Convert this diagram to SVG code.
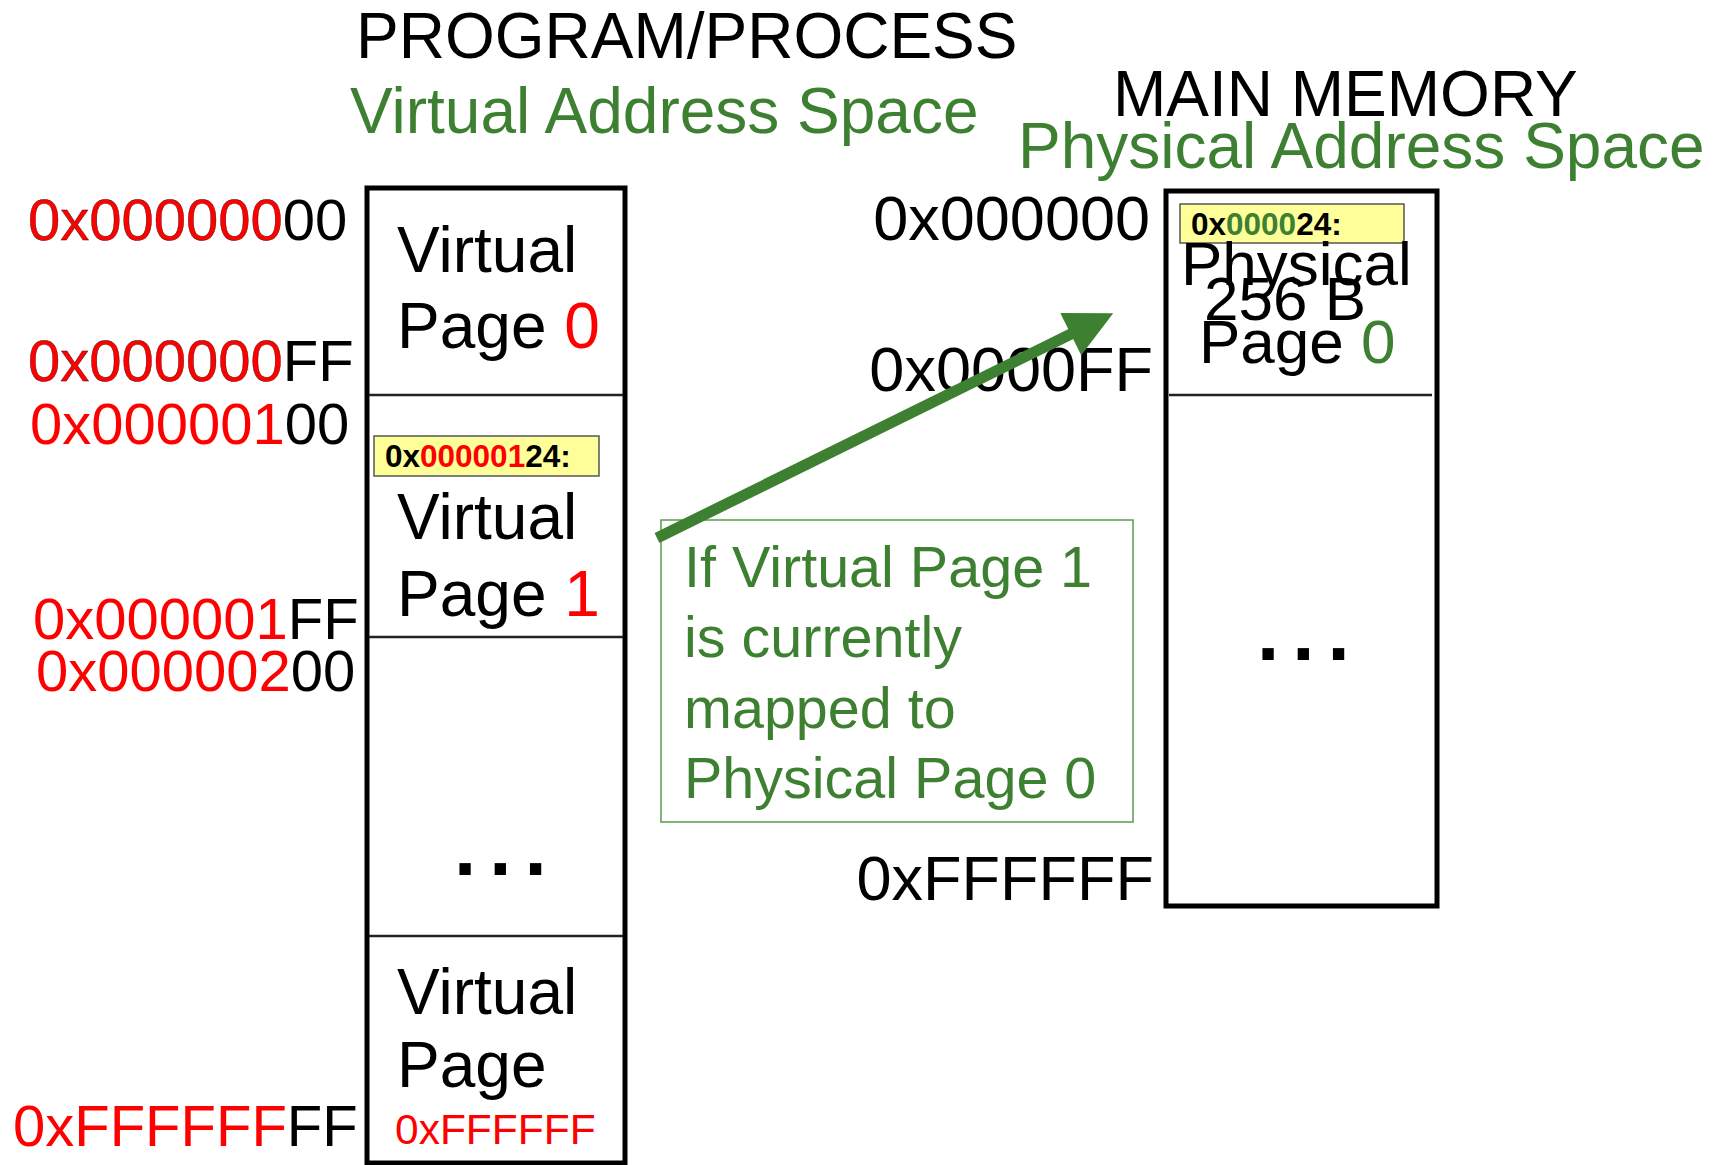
<svg xmlns="http://www.w3.org/2000/svg" width="1728" height="1165" viewBox="0 0 1728 1165">
  <style>
    text { font-family: "Liberation Sans", Arial, sans-serif; fill: #000; }
    .title { font-size: 64px; }
    .green { fill: #3e8032; }
    .red { fill: #ff0000; }
    .addr { font-size: 58px; }
    .paddr { font-size: 63px; }
    .page { font-size: 64px; }
    .ppage { font-size: 62px; }
    .note { font-size: 57.5px; fill: #3e8032; }
    .tag { font-size: 31.5px; font-weight: bold; }
    .dots { font-size: 80px; font-weight: bold; letter-spacing: 13px; }
    .frame { fill: #fff; stroke: #000; stroke-width: 5; }
    .divider { stroke: #222; stroke-width: 2.5; }
    .tagbox { fill: #ffff99; stroke: #555; stroke-width: 1.5; }
    .outlined { stroke: #300; stroke-width: 0.4; }
  </style>
  <defs>
    <marker id="head" viewBox="0 0 10 10" refX="1" refY="5" markerWidth="4.4" markerHeight="4.3" orient="auto" markerUnits="strokeWidth">
      <path d="M0,0 L10,5 L0,10 z" fill="#3e8032"/>
    </marker>
  </defs>

  <rect width="1728" height="1165" fill="#fff"/>

  <!-- headings -->
  <g id="headings">
    <text class="title" x="356" y="58">PROGRAM/PROCESS</text>
    <text class="title green" x="350" y="133">Virtual Address Space</text>
    <text class="title" x="1113" y="116">MAIN MEMORY</text>
    <text class="title green" x="1018" y="168">Physical Address Space</text>
  </g>

  <!-- virtual address labels -->
  <g id="virtual-addresses" class="addr">
    <text x="28" y="240"><tspan class="red outlined">0x000000</tspan>00</text>
    <text x="28" y="381"><tspan class="red outlined">0x000000</tspan>FF</text>
    <text x="30" y="444"><tspan class="red">0x000001</tspan>00</text>
    <text x="33" y="639"><tspan class="red">0x000001</tspan>FF</text>
    <text x="36" y="691"><tspan class="red">0x000002</tspan>00</text>
    <text x="13" y="1146"><tspan class="red">0xFFFFFF</tspan>FF</text>
  </g>

  <!-- virtual address space column -->
  <g id="virtual-space">
    <rect class="frame" x="367" y="188" width="258" height="975"/>
    <line class="divider" x1="369" y1="395" x2="623" y2="395"/>
    <line class="divider" x1="369" y1="637" x2="623" y2="637"/>
    <line class="divider" x1="369" y1="936" x2="623" y2="936"/>

    <g id="vpage-0" class="page">
      <text x="397" y="272">Virtual</text>
      <text x="397" y="348">Page <tspan class="red">0</tspan></text>
    </g>

    <g id="vpage-1">
      <rect class="tagbox" x="374" y="436" width="225" height="40"/>
      <text class="tag" x="385" y="467">0x<tspan class="red">000001</tspan>24:</text>
      <text class="page" x="397" y="539">Virtual</text>
      <text class="page" x="397" y="616">Page <tspan class="red">1</tspan></text>
    </g>

    <g id="vpage-gap">
      <text class="dots" x="454" y="875">...</text>
    </g>

    <g id="vpage-last">
      <text class="page" x="397" y="1014">Virtual</text>
      <text class="page" x="397" y="1087">Page</text>
      <text class="red" x="395" y="1144" font-size="42.5">0xFFFFFF</text>
    </g>
  </g>

  <!-- physical address labels -->
  <g id="physical-addresses" class="paddr" text-anchor="end">
    <text x="1150" y="240">0x000000</text>
    <text x="1153" y="391">0x0000FF</text>
    <text x="1154" y="900">0xFFFFFF</text>
  </g>

  <!-- physical address space column -->
  <g id="physical-space">
    <rect class="frame" x="1166" y="191" width="271" height="715"/>
    <line class="divider" x1="1169" y1="395" x2="1432" y2="395"/>

    <g id="ppage-0">
      <rect class="tagbox" x="1180" y="204" width="224" height="39"/>
      <text class="tag" x="1191" y="235">0x<tspan class="green">0000</tspan>24:</text>
      <text class="ppage" x="1181" y="285">Physical</text>
      <text class="ppage" x="1204" y="320">256 B</text>
      <text class="ppage" x="1199" y="363">Page <tspan class="green">0</tspan></text>
    </g>

    <g id="ppage-gap">
      <text class="dots" x="1257" y="660">...</text>
    </g>
  </g>

  <!-- mapping note -->
  <g id="mapping-note">
    <rect x="661" y="520" width="472" height="302" fill="#fff" stroke="#5a9a4c" stroke-width="1.5"/>
    <text class="note" x="684" y="587">If Virtual Page 1</text>
    <text class="note" x="684" y="657">is currently</text>
    <text class="note" x="684" y="728">mapped to</text>
    <text class="note" x="684" y="798">Physical Page 0</text>
  </g>

  <!-- connectors -->
  <g id="connectors">
    <line x1="657" y1="538" x2="1075" y2="332" stroke="#3e8032" stroke-width="11" marker-end="url(#head)"/>
  </g>
</svg>
